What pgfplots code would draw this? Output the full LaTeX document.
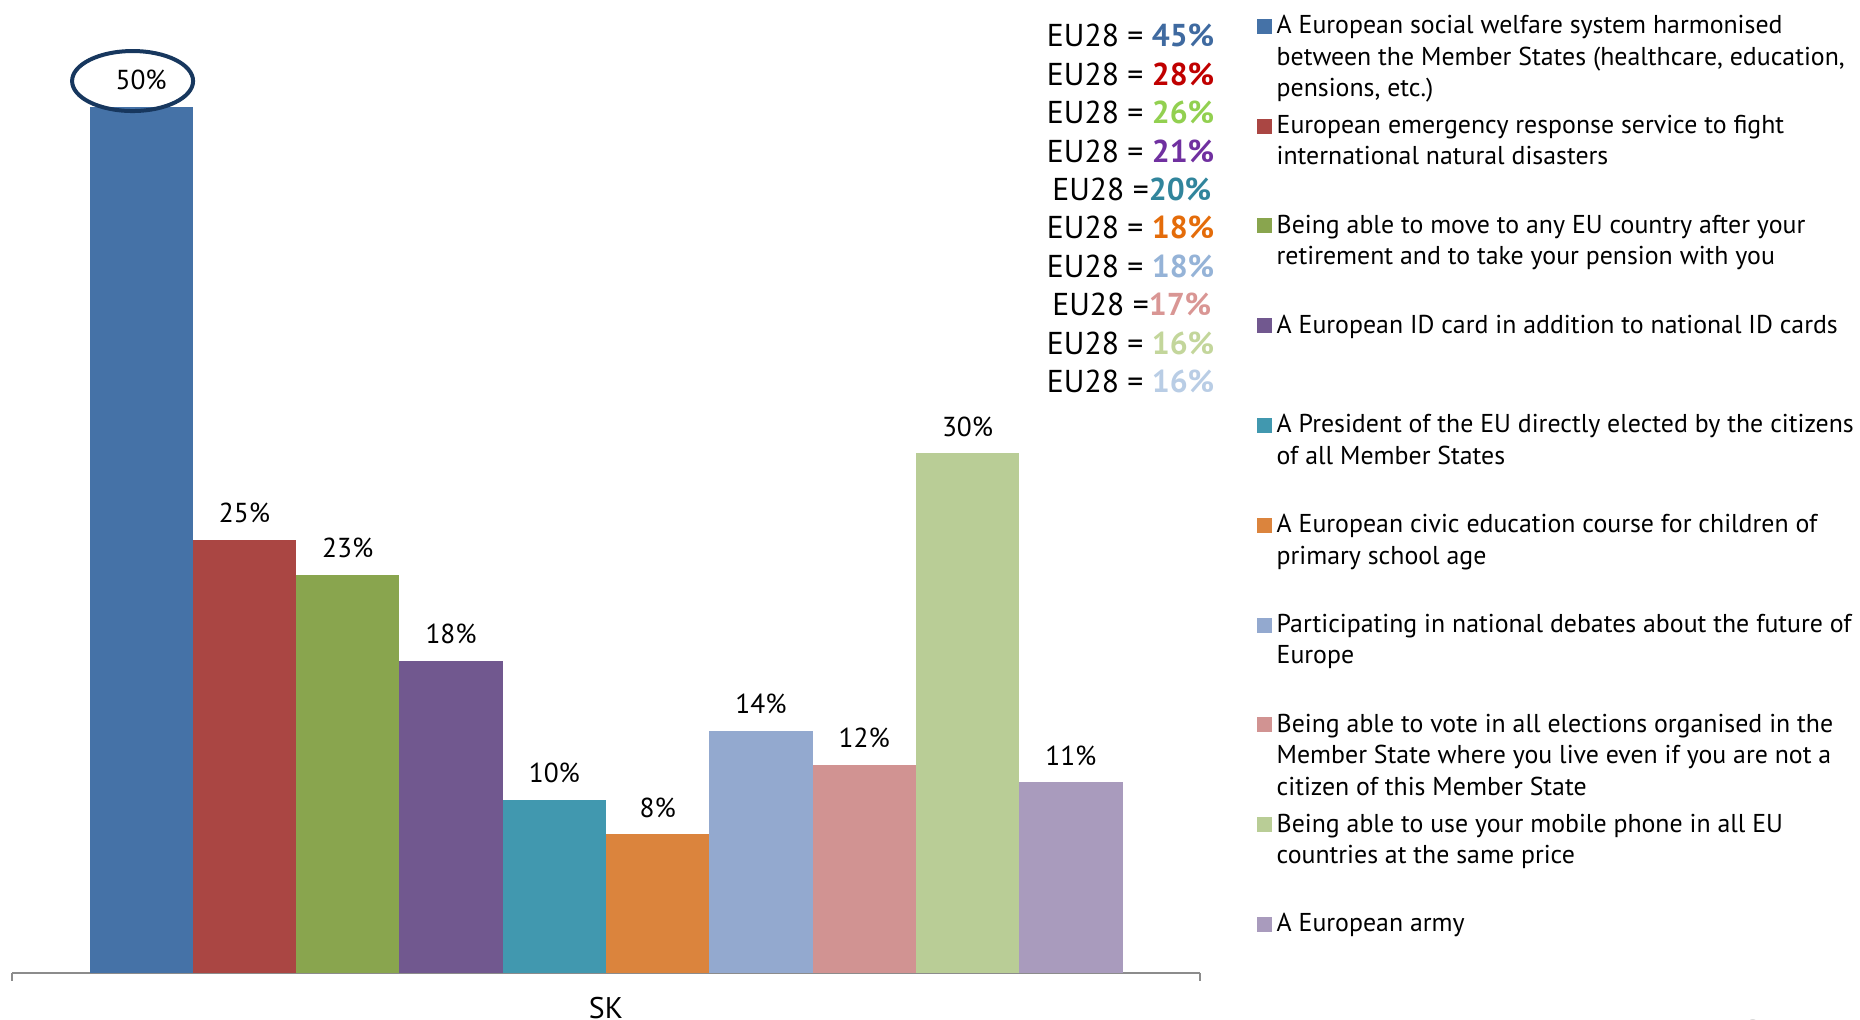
\documentclass[border=0pt]{standalone}
\usepackage{fontspec}
\setmainfont{PT Sans}
\usepackage{pgfplots}
\pgfplotsset{compat=1.18}

% bar colours
\definecolor{c1}{HTML}{4572A7}
\definecolor{c2}{HTML}{AA4643}
\definecolor{c3}{HTML}{89A54E}
\definecolor{c4}{HTML}{71588F}
\definecolor{c5}{HTML}{4198AF}
\definecolor{c6}{HTML}{DB843D}
\definecolor{c7}{HTML}{93A9CF}
\definecolor{c8}{HTML}{D19392}
\definecolor{c9}{HTML}{B9CD96}
\definecolor{c10}{HTML}{A99BBD}
% EU28 value colours
\definecolor{e1}{HTML}{3F6AA0}
\definecolor{e2}{HTML}{C00000}
\definecolor{e3}{HTML}{92D050}
\definecolor{e4}{HTML}{7030A0}
\definecolor{e5}{HTML}{31859C}
\definecolor{e6}{HTML}{E46C0A}
\definecolor{e7}{HTML}{95B3D7}
\definecolor{e8}{HTML}{D99694}
\definecolor{e9}{HTML}{C3D69B}
\definecolor{e10}{HTML}{B9CDE5}
\definecolor{navy}{HTML}{17375E}

\newcommand{\leg}[1]{\parbox[t]{5.9cm}{\fontsize{7.35}{8.95}\selectfont #1}}

\pgfplotsset{sq legend/.style={legend image code/.code={\fill[##1, draw=none] (0cm,0cm) rectangle (0.15cm,0.15cm);}}}
\tikzset{eu/.style={anchor=east, inner sep=0pt, font=\fontsize{9}{10}\selectfont}}

\begin{document}
\begin{tikzpicture}
\useasboundingbox (0,0) rectangle (18.6,10.2);
\begin{axis}[
    at={(0.12cm,0.47cm)}, anchor=south west,
    width=11.88cm, height=9.73cm, scale only axis,
    xmin=-1, xmax=1, ymin=0, ymax=56.18,
    ybar=0pt, bar width=1.033cm,
    hide y axis, axis x line*=bottom,
    x axis line style={-, draw=gray!90, line width=0.6pt},
    xtick={-1,1}, xticklabels={}, tick align=outside, major tick length=0.08cm,
    x tick style={gray!90, line width=0.6pt},
    xlabel={SK},
    xlabel style={at={(axis description cs:0.5,0)}, anchor=center, yshift=-0.35cm, font=\fontsize{8.5}{10}\selectfont},
    nodes near coords={\pgfmathprintnumber[assume math mode=true]{\pgfplotspointmeta}\%},
    every node near coord/.append style={font=\fontsize{7.8}{9}\selectfont, anchor=center, yshift=0.27cm, text=black},
    clip=false,
    legend style={at={(axis description cs:1.0471,0.9866)}, anchor=north west, draw=none, fill=none,
        inner sep=0pt, row sep=0pt, column sep=0.05cm, cells={anchor=base west},
        nodes={inner sep=0pt, text height=0.2cm, text depth=0.798cm}},
]
\addplot[fill=c1, draw=none, sq legend] coordinates {(0,50)};
\addlegendentry{\leg{A European social welfare system harmonised\\between the Member States (healthcare, education,\\pensions, etc.)}}
\addplot[fill=c2, draw=none, sq legend] coordinates {(0,25)};
\addlegendentry{\leg{European emergency response service to fight\\international natural disasters}}
\addplot[fill=c3, draw=none, sq legend] coordinates {(0,23)};
\addlegendentry{\leg{Being able to move to any EU country after your\\retirement and to take your pension with you}}
\addplot[fill=c4, draw=none, sq legend] coordinates {(0,18)};
\addlegendentry{\leg{A European ID card in addition to national ID cards}}
\addplot[fill=c5, draw=none, sq legend] coordinates {(0,10)};
\addlegendentry{\leg{A President of the EU directly elected by the citizens\\of all Member States}}
\addplot[fill=c6, draw=none, sq legend] coordinates {(0,8)};
\addlegendentry{\leg{A European civic education course for children of\\primary school age}}
\addplot[fill=c7, draw=none, sq legend] coordinates {(0,14)};
\addlegendentry{\leg{Participating in national debates about the future of\\Europe}}
\addplot[fill=c8, draw=none, sq legend] coordinates {(0,12)};
\addlegendentry{\leg{Being able to vote in all elections organised in the\\Member State where you live even if you are not a\\citizen of this Member State}}
\addplot[fill=c9, draw=none, sq legend] coordinates {(0,30)};
\addlegendentry{\leg{Being able to use your mobile phone in all EU\\countries at the same price}}
\addplot[fill=c10, draw=none, sq legend] coordinates {(0,11)};
\addlegendentry{\leg{A European army}}
\draw[navy, line width=0.04cm] (axis cs:-0.797,51.5) ellipse [x radius=0.605cm, y radius=0.30cm];
\end{axis}
\node[eu] at (12.15,9.842) {EU28 = \textcolor{e1}{\textbf{45\%}}};
\node[eu] at (12.15,9.458) {EU28 = \textcolor{e2}{\textbf{28\%}}};
\node[eu] at (12.15,9.074) {EU28 = \textcolor{e3}{\textbf{26\%}}};
\node[eu] at (12.15,8.690) {EU28 = \textcolor{e4}{\textbf{21\%}}};
\node[eu] at (12.12,8.306) {EU28 =\textcolor{e5}{\textbf{20\%}}};
\node[eu] at (12.15,7.922) {EU28 = \textcolor{e6}{\textbf{18\%}}};
\node[eu] at (12.15,7.538) {EU28 = \textcolor{e7}{\textbf{18\%}}};
\node[eu] at (12.12,7.154) {EU28 =\textcolor{e8}{\textbf{17\%}}};
\node[eu] at (12.15,6.770) {EU28 = \textcolor{e9}{\textbf{16\%}}};
\node[eu] at (12.15,6.386) {EU28 = \textcolor{e10}{\textbf{16\%}}};
\node[gray!60, anchor=north, font=\fontsize{9}{10}\selectfont] at (17.53,0.12) {9};
\end{tikzpicture}
\end{document}
